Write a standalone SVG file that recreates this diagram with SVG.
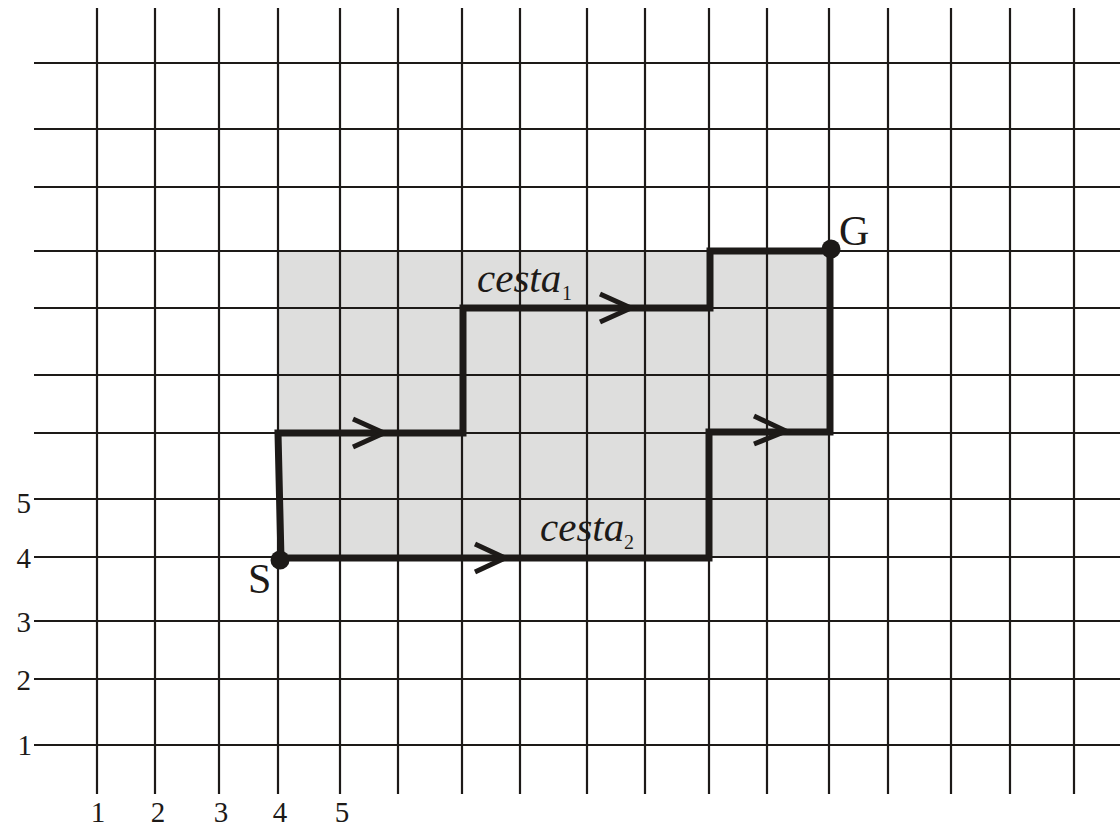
<svg xmlns="http://www.w3.org/2000/svg" width="1120" height="826" viewBox="0 0 1120 826">
<style>
.grid line{stroke:#1d1a18;stroke-width:2.2}
.path{fill:none;stroke:#1d1a18;stroke-width:7;stroke-linejoin:miter;stroke-linecap:square}
.chev{fill:none;stroke:#1d1a18;stroke-width:5;stroke-linecap:butt;stroke-linejoin:miter}
.num{font-family:"Liberation Serif",serif;font-size:29px;fill:#1d1a18}
.lbl{font-family:"Liberation Serif",serif;font-size:42px;fill:#1d1a18}
.it{font-family:"Liberation Serif",serif;font-style:italic;font-size:41px;fill:#1d1a18}
.sub{font-family:"Liberation Serif",serif;font-size:20px;fill:#1d1a18}
</style>
<rect width="1120" height="826" fill="#ffffff"/>
<rect id="region" x="277" y="251" width="553" height="307" fill="#dededd"/>
<g id="grid" class="grid">
<line x1="97" y1="8" x2="97" y2="794"/>
<line x1="155" y1="8" x2="155" y2="794"/>
<line x1="219" y1="8" x2="219" y2="794"/>
<line x1="278" y1="8" x2="278" y2="794"/>
<line x1="340" y1="8" x2="340" y2="794"/>
<line x1="398" y1="8" x2="398" y2="794"/>
<line x1="462" y1="8" x2="462" y2="794"/>
<line x1="520" y1="8" x2="520" y2="794"/>
<line x1="587" y1="8" x2="587" y2="794"/>
<line x1="645" y1="8" x2="645" y2="794"/>
<line x1="709" y1="8" x2="709" y2="794"/>
<line x1="767" y1="8" x2="767" y2="794"/>
<line x1="829" y1="8" x2="829" y2="794"/>
<line x1="888" y1="8" x2="888" y2="794"/>
<line x1="951" y1="8" x2="951" y2="794"/>
<line x1="1010" y1="8" x2="1010" y2="794"/>
<line x1="1074" y1="8" x2="1074" y2="794"/>
<line x1="34" y1="63" x2="1120" y2="63"/>
<line x1="34" y1="129" x2="1120" y2="129"/>
<line x1="34" y1="187" x2="1120" y2="187"/>
<line x1="34" y1="251" x2="1120" y2="251"/>
<line x1="34" y1="308" x2="1120" y2="308"/>
<line x1="34" y1="375" x2="1120" y2="375"/>
<line x1="34" y1="433" x2="1120" y2="433"/>
<line x1="34" y1="499" x2="1120" y2="499"/>
<line x1="34" y1="557" x2="1120" y2="557"/>
<line x1="34" y1="621" x2="1120" y2="621"/>
<line x1="34" y1="679" x2="1120" y2="679"/>
<line x1="34" y1="745" x2="1120" y2="745"/>
</g>
<g id="connectors">
<path id="cesta1" class="path" d="M281,559 L278,433 L463,433 L463,308 L710,308 L710,251 L830,251"/>
<path id="cesta2" class="path" d="M281,558 L709,558 L709,432 L830,432 L830,251"/>
<polyline class="chev" points="353,419 384,433 353,447"/>
<polyline class="chev" points="600,294 631,308 600,322"/>
<polyline class="chev" points="475,544 505,558 475,572"/>
<polyline class="chev" points="754,416 786,431 754,444"/>
</g>
<g id="S">
<circle cx="280" cy="560" r="9.5" fill="#1d1a18"/>
<text class="lbl" x="248" y="593">S</text>
</g>
<g id="G">
<circle cx="831" cy="249" r="9.5" fill="#1d1a18"/>
<text class="lbl" x="839" y="245">G</text>
</g>
<g id="label-cesta1">
<text class="it" x="477" y="292">cesta</text>
<text class="sub" x="562" y="300">1</text>
</g>
<g id="label-cesta2">
<text class="it" x="540" y="541">cesta</text>
<text class="sub" x="624" y="549">2</text>
</g>
<g id="axis-y">
<text class="num" x="31" y="513" text-anchor="end">5</text>
<text class="num" x="31" y="568" text-anchor="end">4</text>
<text class="num" x="31" y="632" text-anchor="end">3</text>
<text class="num" x="31" y="690" text-anchor="end">2</text>
<text class="num" x="32" y="755" text-anchor="end">1</text>
</g>
<g id="axis-x">
<text class="num" x="98" y="822" text-anchor="middle">1</text>
<text class="num" x="158" y="822" text-anchor="middle">2</text>
<text class="num" x="221" y="822" text-anchor="middle">3</text>
<text class="num" x="280" y="822" text-anchor="middle">4</text>
<text class="num" x="342" y="822" text-anchor="middle">5</text>
</g>
</svg>
